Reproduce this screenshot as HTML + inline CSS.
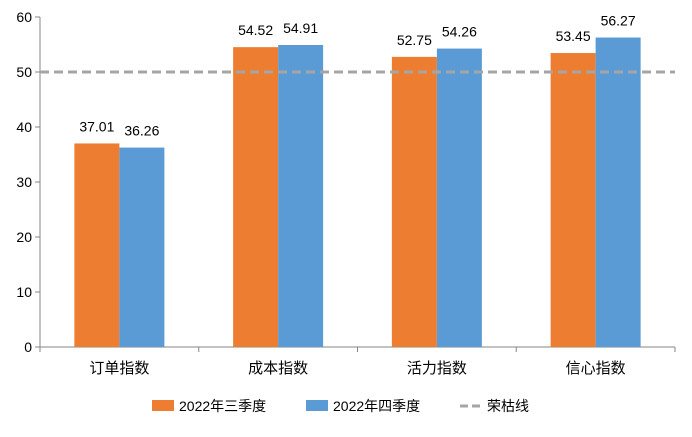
<!DOCTYPE html>
<html><head><meta charset="utf-8"><style>
body{margin:0;background:#fff;}
svg text{font-family:"Liberation Sans","Noto Sans CJK SC",sans-serif;fill:#000;}
</style></head><body>
<svg id="chart" width="692" height="432" viewBox="0 0 692 432" xmlns="http://www.w3.org/2000/svg"></svg>
<script>
const categories = ["订单指数","成本指数","活力指数","信心指数"];
const seriesQ3 = [37.01, 54.52, 52.75, 53.45];
const seriesQ4 = [36.26, 54.91, 54.26, 56.27];
const yTicks = [0,10,20,30,40,50,60];
const thresholdValue = 50;

const NS="http://www.w3.org/2000/svg";
const svg=document.getElementById('chart');
const x0=40,x1=675,yBase=347,yTop=17,yMax=60;
const y=v=>yBase-(v/yMax)*(yBase-yTop);
const band=(x1-x0)/categories.length;
const bw=45;
function mk(tag,attrs,parent){const e=document.createElementNS(NS,tag);for(const k in attrs)e.setAttribute(k,attrs[k]);(parent||svg).appendChild(e);return e;}

// y axis
let ax=mk('line',{x1:x0,y1:yTop,x2:x0,y2:yBase,stroke:'#868686','stroke-width':1});


yTicks.forEach(t=>{
  const tk=mk('line',{x1:x0-5,y1:y(t),x2:x0,y2:y(t),stroke:'#868686'});
  
  
  const tl=mk('text',{x:x0-8,y:y(t)+5,'text-anchor':'end','font-size':14});
  tl.textContent=t;
  
  
});
// x axis
let xa=mk('line',{x1:x0,y1:yBase,x2:x1,y2:yBase,stroke:'#868686'});


for(let i=0;i<=categories.length;i++){
  const tk=mk('line',{x1:x0+i*band,y1:yBase,x2:x0+i*band,y2:yBase+5,stroke:'#868686'});
  
  
}
categories.forEach((c,i)=>{
  const cx=x0+band*(i+0.5);
  const b1=mk('rect',{x:cx-bw,y:y(seriesQ3[i]),width:bw,height:yBase-y(seriesQ3[i]),fill:'#ED7D31'});
  
  
  const b2=mk('rect',{x:cx,y:y(seriesQ4[i]),width:bw,height:yBase-y(seriesQ4[i]),fill:'#5B9BD5'});
  
  
  const l1=mk('text',{x:cx-bw/2,y:y(seriesQ3[i])-12,'text-anchor':'middle','font-size':14});
  l1.textContent=seriesQ3[i].toFixed(2);
  
  
  const l2=mk('text',{x:cx+bw/2,y:y(seriesQ4[i])-12,'text-anchor':'middle','font-size':14});
  l2.textContent=seriesQ4[i].toFixed(2);
  
  
  const cl=mk('text',{x:cx,y:373,'text-anchor':'middle','font-size':15});
  cl.textContent=c;
  
  
});
// threshold
const th=mk('line',{x1:x0,y1:y(thresholdValue),x2:x1,y2:y(thresholdValue),stroke:'#A5A5A5','stroke-width':3,'stroke-dasharray':'9,5'});


// legend
const leg=mk('g',{});


const items=[
  {x:152,label:'2022年三季度',type:'rect',color:'#ED7D31',name:'legend-q3'},
  {x:306,label:'2022年四季度',type:'rect',color:'#5B9BD5',name:'legend-q4'},
  {x:460,label:'荣枯线',type:'line',color:'#A5A5A5',name:'legend-threshold'}];
items.forEach(it=>{
  const g=mk('g',{},leg);
  
  
  if(it.type==='rect') mk('rect',{x:it.x,y:400,width:22,height:11,fill:it.color},g);
  else mk('line',{x1:it.x,y1:406,x2:it.x+24,y2:406,stroke:it.color,'stroke-width':3,'stroke-dasharray':'8,4'},g);
  const t=mk('text',{x:it.x+27,y:411,'font-size':14},g);
  t.textContent=it.label;
});
</script>
</body></html>
